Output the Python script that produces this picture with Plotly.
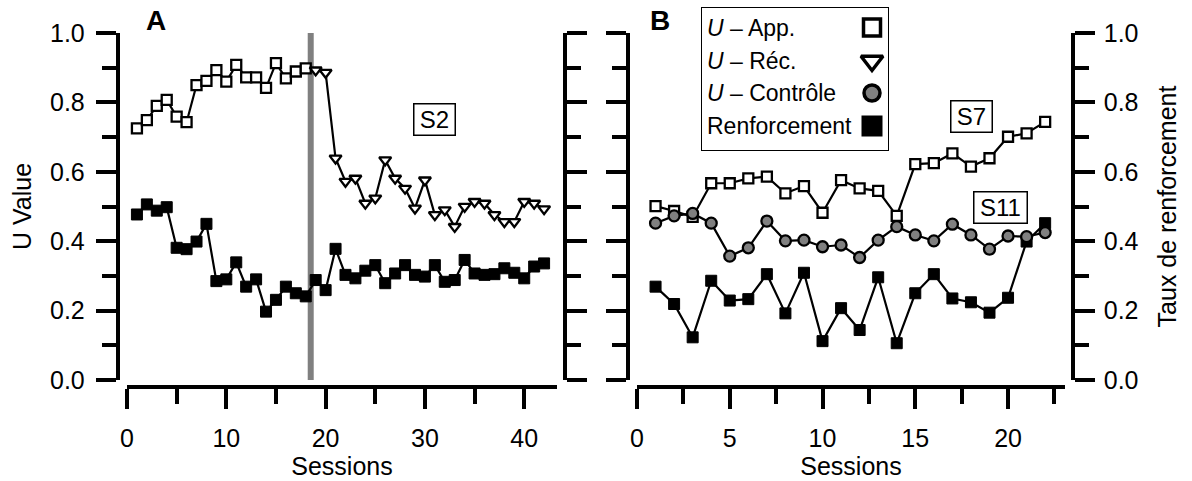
import plotly.graph_objects as go

W, H = 1192, 481
FONT = "Liberation Sans, Arial, sans-serif"

# ---- Panel A (S2) ----
sessions_app_s2 = list(range(1, 19))
u_app_s2 = [0.725, 0.749, 0.790, 0.807, 0.759, 0.743, 0.850, 0.862, 0.893, 0.860,
            0.908, 0.872, 0.872, 0.842, 0.913, 0.869, 0.889, 0.898]
sessions_rec_s2 = list(range(19, 43))
u_rec_s2 = [0.893, 0.886, 0.639, 0.572, 0.581, 0.509, 0.524, 0.634, 0.581, 0.552,
            0.495, 0.576, 0.476, 0.490, 0.442, 0.500, 0.514, 0.509, 0.476, 0.456,
            0.456, 0.514, 0.509, 0.493]
sessions_s2 = list(range(1, 43))
renf_s2 = [0.477, 0.506, 0.488, 0.498, 0.381, 0.377, 0.399, 0.450, 0.285, 0.290,
           0.339, 0.269, 0.290, 0.197, 0.231, 0.269, 0.250, 0.241, 0.288, 0.259,
           0.378, 0.303, 0.293, 0.315, 0.331, 0.279, 0.307, 0.331, 0.303, 0.298,
           0.331, 0.283, 0.288, 0.346, 0.307, 0.303, 0.305, 0.322, 0.309, 0.293,
           0.327, 0.336]
phase_change_s2 = 18.5

# ---- Panel B (S7 / S11) ----
sessions_b = list(range(1, 23))
u_app_s7 = [0.501, 0.487, 0.470, 0.567, 0.567, 0.581, 0.586, 0.538, 0.559, 0.482,
            0.576, 0.552, 0.545, 0.473, 0.622, 0.625, 0.653, 0.615, 0.639, 0.701,
            0.711, 0.744]
u_ctrl_s11 = [0.452, 0.473, 0.480, 0.452, 0.357, 0.381, 0.458, 0.401, 0.403, 0.384,
              0.389, 0.353, 0.403, 0.442, 0.418, 0.401, 0.449, 0.418, 0.377, 0.415,
              0.413, 0.425]
renf_b = [0.269, 0.219, 0.123, 0.286, 0.229, 0.233, 0.305, 0.192, 0.309, 0.112,
          0.207, 0.144, 0.296, 0.106, 0.250, 0.305, 0.235, 0.224, 0.194, 0.237,
          0.399, 0.452]

y_ticks = [0.0, 0.2, 0.4, 0.6, 0.8, 1.0]
x_ticks_a = [0, 10, 20, 30, 40]
x_ticks_b = [0, 5, 10, 15, 20]

legend_labels = ["<i>U</i> \u2013 App.", "<i>U</i> \u2013 R\u00e9c.",
                 "<i>U</i> \u2013 Contr\u00f4le", "Renforcement"]


def fx(p):
    return p / W


def fy(p):
    return 1 - p / H


LW = 3.5
open_sq = dict(symbol="square", size=10, color="white", line=dict(color="black", width=2.3))
tri = dict(symbol="triangle-down", size=10.5, color="white", line=dict(color="black", width=2.3))
filled_sq = dict(symbol="square", size=11, color="black", line=dict(color="black", width=1))
grey_c = dict(symbol="circle", size=11, color="#808080", line=dict(color="black", width=2.3))
line_style = dict(color="black", width=2.2)

fig = go.Figure()

# Panel A traces
fig.add_trace(go.Scatter(x=sessions_s2, y=renf_s2, mode="lines+markers",
                         line=line_style, marker=filled_sq, xaxis="x", yaxis="y",
                         showlegend=False))
u_all_s2 = u_app_s2 + u_rec_s2
fig.add_trace(go.Scatter(x=sessions_app_s2 + sessions_rec_s2, y=u_all_s2, mode="lines",
                         line=line_style, xaxis="x", yaxis="y", showlegend=False))
fig.add_trace(go.Scatter(x=sessions_app_s2, y=u_app_s2, mode="markers",
                         marker=open_sq, xaxis="x", yaxis="y", showlegend=False))
fig.add_trace(go.Scatter(x=sessions_rec_s2, y=u_rec_s2, mode="markers",
                         marker=tri, xaxis="x", yaxis="y", showlegend=False))

# Panel B traces
fig.add_trace(go.Scatter(x=sessions_b, y=renf_b, mode="lines+markers",
                         line=line_style, marker=filled_sq, xaxis="x2", yaxis="y2",
                         showlegend=False))
fig.add_trace(go.Scatter(x=sessions_b, y=u_app_s7, mode="lines+markers",
                         line=line_style, marker=open_sq, xaxis="x2", yaxis="y2",
                         showlegend=False))
fig.add_trace(go.Scatter(x=sessions_b, y=u_ctrl_s11, mode="lines+markers",
                         line=line_style, marker=grey_c, xaxis="x2", yaxis="y2",
                         showlegend=False))

# empty traces so the mirrored side axes get drawn
fig.add_trace(go.Scatter(x=[], y=[], xaxis="x", yaxis="y3", showlegend=False))
fig.add_trace(go.Scatter(x=[], y=[], xaxis="x2", yaxis="y4", showlegend=False))

# legend keys on a hidden axis pair spanning the legend box
box = dict(x0=702, x1=888, y0=8, y1=150)
key_x = (872 - box["x0"]) / (box["x1"] - box["x0"])
key_rows = [27.5, 61, 93, 126]
key_y = [(box["y1"] - r) / (box["y1"] - box["y0"]) for r in key_rows]
key_styles = [
    dict(symbol="square", size=17, color="white", line=dict(color="black", width=3.5)),
    dict(symbol="triangle-down", size=19, color="white", line=dict(color="black", width=3.5)),
    dict(symbol="circle", size=16, color="#808080", line=dict(color="black", width=3.5)),
    dict(symbol="square", size=19, color="black", line=dict(color="black", width=2)),
]
for ky, st in zip(key_y, key_styles):
    fig.add_trace(go.Scatter(x=[key_x], y=[ky], mode="markers", marker=st,
                             xaxis="x3", yaxis="y5", showlegend=False, cliponaxis=False))

tickfont = dict(family=FONT, size=25, color="black")


def yax(pos, side, labels, domain, overlay=None, title=None, lbl_off=0, title_off=14):
    d = dict(domain=domain, range=[0, 1], anchor="free", position=pos, side=side,
             automargin=False,
             showline=True, linewidth=LW, linecolor="black", showgrid=False,
             zeroline=False, ticks="outside", ticklen=20, tickwidth=LW,
             tickcolor="black", tickvals=y_ticks, ticktext=[f"{v:.1f}" for v in y_ticks],
             showticklabels=labels, tickfont=tickfont, fixedrange=True,
             ticklabelstandoff=lbl_off,
             minor=dict(dtick=0.1, tick0=0, ticks="outside", ticklen=14,
                        tickwidth=LW, tickcolor="black", showgrid=False))
    if overlay:
        d["overlaying"] = overlay
    if title:
        d["title"] = dict(text=title, font=tickfont, standoff=title_off)
    return d


def xax(domain, rng, ticks_, minor_dt):
    return dict(domain=domain, range=rng, anchor="free", position=fy(387),
                automargin=False,
                showline=True, linewidth=LW, linecolor="black", showgrid=False,
                zeroline=False, ticks="outside", ticklen=20, tickwidth=LW,
                tickcolor="black", tickvals=ticks_, tickfont=tickfont,
                ticklabelstandoff=8,
                minor=dict(dtick=minor_dt, tick0=0, ticks="outside", ticklen=15,
                           tickwidth=LW, tickcolor="black", showgrid=False),
                title=dict(text="Sessions", font=tickfont, standoff=4))


ydom = [fy(380), fy(33)]

fig.update_layout(
    template="none",
    width=W, height=H,
    margin=dict(l=0, r=0, t=0, b=0, pad=0, autoexpand=False),
    paper_bgcolor="white", plot_bgcolor="white",
    font=dict(family=FONT, color="black"),
    xaxis=xax([fx(127), fx(557)], [0, 43.3], x_ticks_a, 5),
    xaxis2=xax([fx(637), fx(1065)], [0, 23.07], x_ticks_b, 2.5),
    yaxis=yax(fx(117.5), "left", True, ydom, title="U Value", lbl_off=6, title_off=10),
    yaxis3=yax(fx(565), "right", False, ydom, overlay="y"),
    yaxis2=yax(fx(628), "left", False, ydom),
    yaxis4=yax(fx(1073), "right", True, ydom, overlay="y2", title="Taux de renforcement",
               lbl_off=4, title_off=20),
    xaxis3=dict(domain=[fx(box["x0"]), fx(box["x1"])], range=[0, 1], visible=False,
                anchor="y5", automargin=False),
    yaxis5=dict(domain=[fy(box["y1"]), fy(box["y0"])], range=[0, 1], visible=False,
                anchor="x3", automargin=False),
    showlegend=False,
)

# phase change line
fig.add_shape(type="line", xref="x", yref="y", x0=phase_change_s2, x1=phase_change_s2,
              y0=0, y1=1, line=dict(color="#808080", width=6), layer="below")

# legend frame
fig.add_shape(type="rect", xref="paper", yref="paper",
              x0=fx(box["x0"]), x1=fx(box["x1"]), y0=fy(box["y1"]), y1=fy(box["y0"]),
              line=dict(color="black", width=2), fillcolor="white", layer="below")

for lbl, r in zip(legend_labels, key_rows):
    fig.add_annotation(text=lbl, xref="paper", yref="paper", x=fx(705), y=fy(r),
                       xanchor="left", yanchor="middle", showarrow=False,
                       font=dict(family=FONT, size=23, color="black"))

# panel letters
for letter, px_, py_ in [("A", 156, 20), ("B", 660, 21)]:
    fig.add_annotation(text=f"<b>{letter}</b>", xref="paper", yref="paper",
                       x=fx(px_), y=fy(py_), xanchor="center", yanchor="middle",
                       showarrow=False, font=dict(family=FONT, size=28, color="black"))

# subject labels
box_lbl = dict(showarrow=False, bgcolor="white", bordercolor="black", borderwidth=1.5,
               borderpad=1, width=38, height=28, xanchor="center", yanchor="middle",
               font=dict(family=FONT, size=24, color="black"))
fig.add_annotation(text="S2", xref="x", yref="y", x=31.0, y=0.751, **box_lbl)
fig.add_annotation(text="S7", xref="x2", yref="y2", x=18.03, y=0.759, **box_lbl)
lbl11 = dict(box_lbl, width=50)
fig.add_annotation(text="S11", xref="x2", yref="y2", x=19.57, y=0.496, **lbl11)

fig.write_html("out.html")
